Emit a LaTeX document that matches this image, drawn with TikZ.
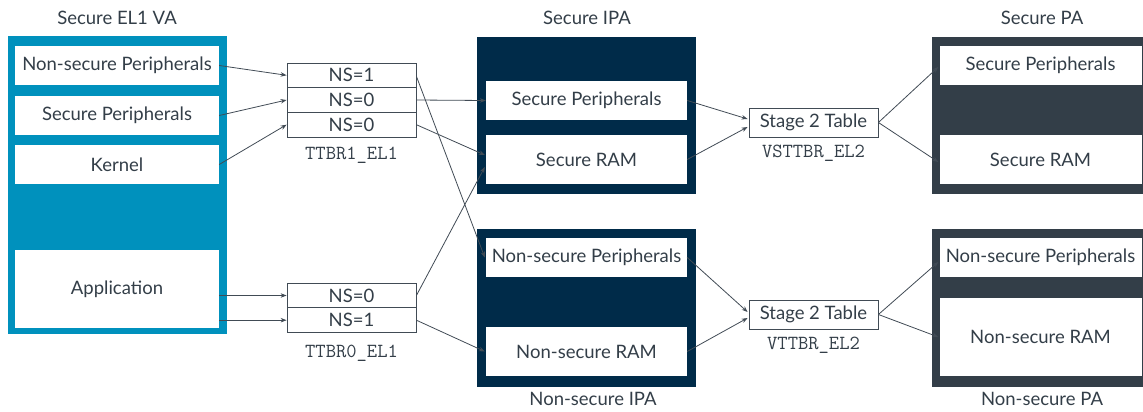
\documentclass[tikz,border=0pt]{standalone}
\usepackage{fontspec}
\setmainfont{Lato}
\usetikzlibrary{arrows.meta}
\definecolor{armblue}{RGB}{0,145,189}
\definecolor{armnavy}{RGB}{0,43,73}
\definecolor{armgrey}{RGB}{51,62,72}
\definecolor{txt}{RGB}{51,62,72}
\definecolor{lin}{RGB}{65,75,85}
\tikzset{
  every node/.style={text=txt, font=\fontsize{18.5}{21}\selectfont},
  outerbox/.style={draw=none, inner sep=0pt},
  inbox/.style={fill=white, draw=none, inner sep=0pt, minimum width=204pt, minimum height=39pt},
  cell/.style={draw=lin, line width=0.8pt, fill=white, inner sep=0pt, minimum width=129pt, minimum height=24.67pt},
  s2box/.style={draw=lin, line width=0.8pt, fill=white, inner sep=0pt, minimum width=129pt, minimum height=29pt},
  reglabel/.style={font=\ttfamily\fontsize{20}{22}\selectfont},
  title/.style={},
  conn/.style={draw=lin, line width=0.8pt, -{Stealth[length=6pt,width=4.5pt]}},
}
\begin{document}
\begin{tikzpicture}[x=1pt,y=-1pt]
\useasboundingbox (0,0) rectangle (1143,412);
\clip (0,0) rectangle (1143,412);
% ---------- Secure EL1 VA ----------
\node[title] (tva) at (117,18) {Secure EL1 VA};
\node[outerbox, fill=armblue, minimum width=219pt, minimum height=298pt] (va) at (117.5,185) {};
\node[inbox] (vansp) at (117,65.5) {Non-secure Peripherals};
\node[inbox] (vasp) at (117,115.5) {Secure Peripherals};
\node[inbox] (vak) at (117,164.5) {Kernel};
\node[inbox, minimum height=78pt] (vaapp) at (117,289) {Application};
% ---------- TTBR1 ----------
\node[cell] (t1a) at (351.5,75.3) {NS=1};
\node[cell] (t1b) at (351.5,100) {NS=0};
\node[cell] (t1c) at (351.5,124.7) {NS=0};
\node[reglabel] (t1l) at (351.5,155) {TTBR1\_EL1};
% ---------- TTBR0 ----------
\node[cell] (t0a) at (351.5,295.5) {NS=0};
\node[cell] (t0b) at (351.5,320.2) {NS=1};
\node[reglabel] (t0l) at (351.5,353) {TTBR0\_EL1};
% ---------- IPA ----------
\node[title] (tsipa) at (587,18) {Secure IPA};
\node[outerbox, fill=armnavy, minimum width=219pt, minimum height=157pt] (sipa) at (586.5,115.5) {};
\node[inbox, minimum width=201pt] (isp) at (586.5,100.5) {Secure Peripherals};
\node[inbox, minimum width=201pt, minimum height=49pt] (isram) at (586.5,159.5) {Secure RAM};
\node[outerbox, fill=armnavy, minimum width=219pt, minimum height=158pt] (nsipa) at (586.5,308) {};
\node[inbox, minimum width=201pt] (insp) at (586.5,257.5) {Non-secure Peripherals};
\node[inbox, minimum width=201pt, minimum height=49pt] (insram) at (586.5,351.5) {Non-secure RAM};
\node[title] (tnsipa) at (593,399) {Non-secure IPA};
% ---------- Stage 2 ----------
\node[s2box] (s2a) at (813.5,122.5) {Stage 2 Table};
\node[reglabel] (s2al) at (813.5,153) {VSTTBR\_EL2};
\node[s2box] (s2b) at (813.5,314.5) {Stage 2 Table};
\node[reglabel] (s2bl) at (813.5,345) {VTTBR\_EL2};
% ---------- PA ----------
\node[title] (tspa) at (1042,18) {Secure PA};
\node[outerbox, fill=armgrey, minimum width=218pt, minimum height=157pt] (spa) at (1041,115.5) {};
\node[inbox, minimum width=202pt] (psp) at (1040.5,65.5) {Secure Peripherals};
\node[inbox, minimum width=202pt, minimum height=49pt] (psram) at (1040.5,159.5) {Secure RAM};
\node[outerbox, fill=armgrey, minimum width=218pt, minimum height=158pt] (nspa) at (1041,308) {};
\node[inbox, minimum width=202pt] (pnsp) at (1040.5,257.5) {Non-secure Peripherals};
\node[inbox, minimum width=202pt, minimum height=78pt] (pnsram) at (1040.5,337) {Non-secure RAM};
\node[title] (tnspa) at (1042,399) {Non-secure PA};
% ---------- connectors: VA -> TTBR ----------
\draw[conn] (vansp.east) -- (t1a.west);
\draw[conn] (vasp.east) -- (t1b.west);
\draw[conn] (vak.east) -- (t1c.west);
\draw[conn] ([yshift=-6.5pt]vaapp.east) -- (t0a.west);
\draw[conn] ([yshift=-31.2pt]vaapp.east) -- (t0b.west);
% ---------- TTBR -> IPA ----------
\draw[conn] ([yshift=-1pt]t1a.east) -- ([xshift=-1pt]insp.west);
\draw[conn] (t1b.east) -- (isp.west);
\draw[conn] (t1c.east) -- ([xshift=-1pt,yshift=4.5pt]isram.west);
\draw[conn] (t0a.east) -- ([xshift=-1pt,yshift=-7.5pt]isram.west);
\draw[conn] (t0b.east) -- ([xshift=-1pt]insram.west);
% ---------- IPA -> Stage 2 ----------
\draw[conn] (isp.east) -- ([xshift=-1pt,yshift=3.5pt]s2a.west);
\draw[conn] (isram.east) -- ([xshift=-1pt,yshift=-4.5pt]s2a.west);
\draw[conn] (insp.east) -- ([xshift=-1pt,yshift=2.5pt]s2b.west);
\draw[conn] (insram.east) -- ([xshift=-1pt,yshift=-3.5pt]s2b.west);
% ---------- Stage 2 -> PA ----------
\draw[conn] (s2a.east) -- ([xshift=-1pt,yshift=-1.5pt]psp.west);
\draw[conn] (s2a.east) -- ([xshift=-1pt,yshift=-2.5pt]psram.west);
\draw[conn] (s2b.east) -- ([xshift=-1pt,yshift=-4.5pt]pnsp.west);
\draw[conn] (s2b.east) -- ([xshift=-1pt]pnsram.west);
\end{tikzpicture}
\end{document}
